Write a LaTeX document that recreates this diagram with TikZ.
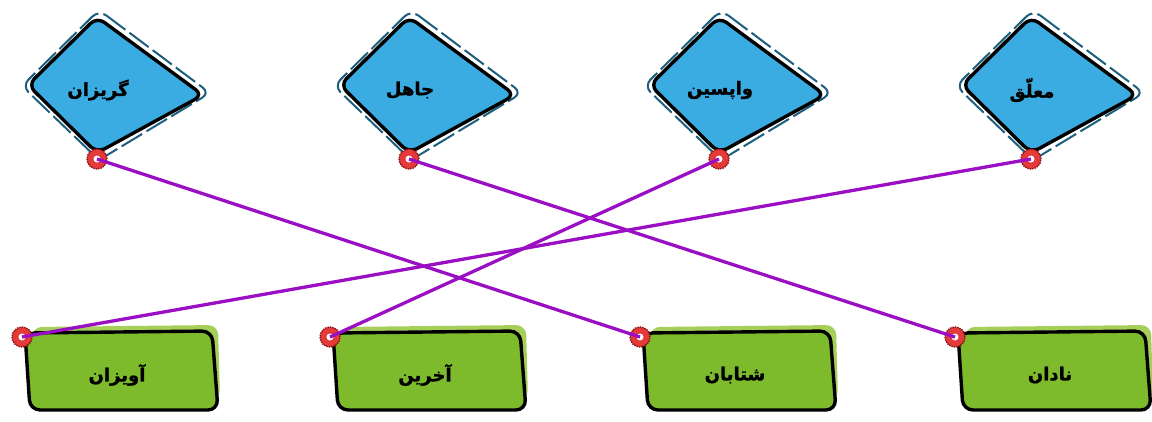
\documentclass[tikz,border=0pt]{standalone}
\usepackage{fontspec}
\newfontfamily\arabicfont[Script=Arabic,BoldFeatures={FakeBold=1.5}]{DejaVu Sans}
\TeXXeTstate=1
\definecolor{kiteblue}{HTML}{3AACE2}
\definecolor{kiteedge}{HTML}{1D5F7F}
\definecolor{boxgreen}{HTML}{7DBB2C}
\definecolor{shadegreen}{HTML}{A6CF5A}
\definecolor{linkpurple}{HTML}{9B0FC4}
\definecolor{dotred}{HTML}{E53A3A}
\definecolor{dotedge}{HTML}{8A1010}
\begin{document}
\begin{tikzpicture}[x=1pt,y=-1pt,
  kite/.style={draw=black,line width=3.4pt,fill=kiteblue,rounded corners=9pt},
  kiteshade/.style={draw=kiteedge,line width=2pt,dash pattern=on 24pt off 5pt,rounded corners=9pt},
  card/.style={draw=black,line width=3.4pt,fill=boxgreen,rounded corners=10pt},
  cardshade/.style={fill=shadegreen,rounded corners=10pt},
  lbl/.style={font=\arabicfont\bfseries\fontsize{18}{21}\selectfont,text=black,inner sep=1pt},
  dotmark/.style={circle,minimum size=20pt,inner sep=0pt,fill=dotred,draw=dotedge,line width=1.4pt,densely dotted,
     path picture={\fill[white] (path picture bounding box.center) circle (3.5pt);}},
  conn/.style={draw=linkpurple,line width=3.3pt}]
\useasboundingbox[fill=white] (0,0) rectangle (1152,421);
% top kites
\foreach \n/\cx/\txt in {1/106/گریزان,2/418/جاهل,3/728/واپسین,4/1040/معلّق}{
  \begin{scope}[shift={(\cx,87)}]
    \draw[kiteshade] (-7,-77) -- (104,6) -- (-7,73) -- (-84,-1) -- cycle;
    \draw[kite] (-9,-70) -- (97,8) -- (-9,66) -- (-78,-2) -- cycle;
    \node[lbl] (t\n) at (-8,3) {\beginR\txt\endR};
    \node[dotmark] (p\n) at (-9,72) {};
  \end{scope}
}
% bottom cards
\foreach \n/\dx/\txt in {1/22/آویزان,2/330/آخرین,3/640/شتابان,4/955/نادان}{
  \begin{scope}[shift={(\dx,0)}]
    \fill[cardshade] (10,327) -- (196,325) -- (198,400) -- (12,402) -- cycle;
    \draw[card] (3,333) -- (190,331) -- (196,410) -- (8,410) -- cycle;
    \node[lbl] (c\n) at (95,375) {\beginR\txt\endR};
    \node[dotmark] (b\n) at (0,337) {};
  \end{scope}
}
% connectors
\draw[conn] (p1.center) -- (b3.center);
\draw[conn] (p2.center) -- (b4.center);
\draw[conn] (p3.center) -- (b2.center);
\draw[conn] (p4.center) -- (b1.center);
\end{tikzpicture}
\end{document}
